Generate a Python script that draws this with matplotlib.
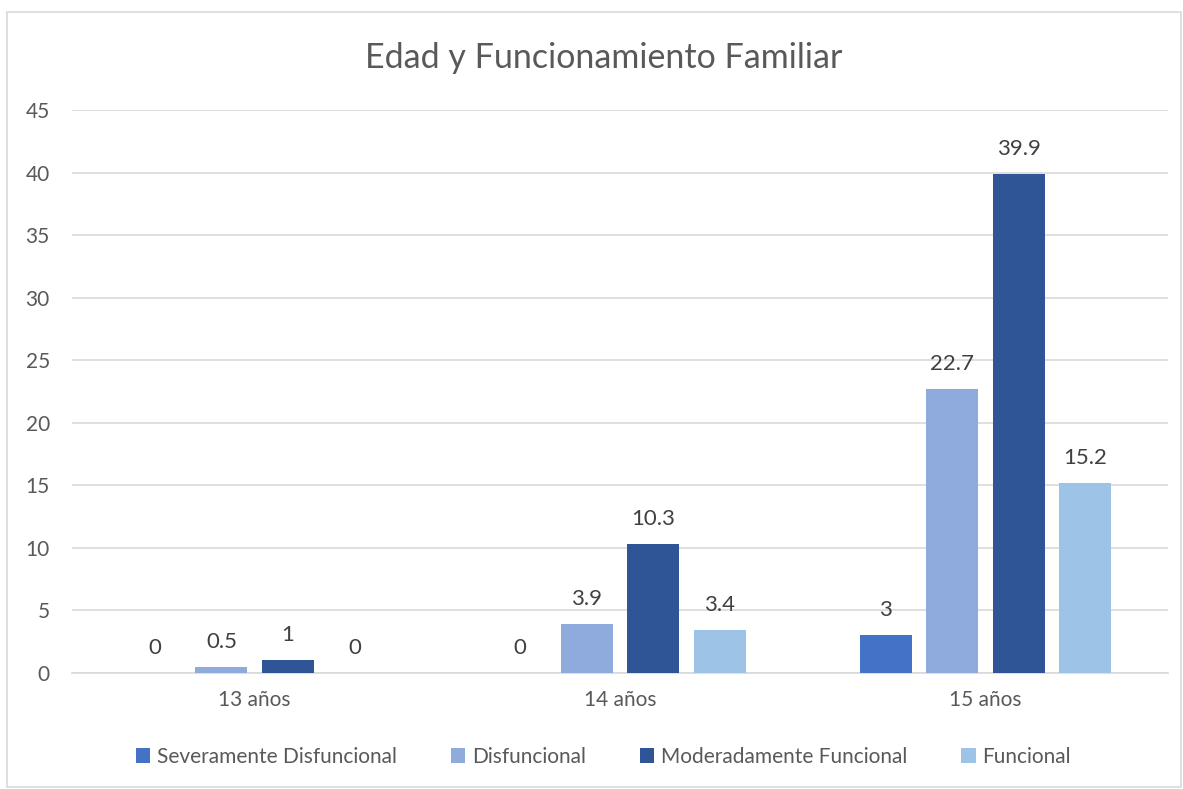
import numpy as np
import matplotlib.pyplot as plt
from matplotlib.patches import Rectangle

plt.rcParams['font.family'] = ['Lato', 'DejaVu Sans']

# Data
categories = ['13 años', '14 años', '15 años']
series_names = ['Severamente Disfuncional', 'Disfuncional', 'Moderadamente Funcional', 'Funcional']
severamente = [0, 0, 3]
disfuncional = [0.5, 3.9, 22.7]
moderadamente = [1, 10.3, 39.9]
funcional = [0, 3.4, 15.2]
values = [severamente, disfuncional, moderadamente, funcional]
colors = ['#4472C4', '#8FAADC', '#2F5597', '#9DC3E6']

fig = plt.figure(figsize=(11.83, 7.89), dpi=100)
ax = fig.add_axes([72 / 1183, 1 - 673 / 789, (1168 - 72) / 1183, (673 - 110) / 789])

# chart border
fig.patches.append(Rectangle((7 / 1183, 2 / 789), 1 - 9 / 1183, 1 - 14 / 789,
                             transform=fig.transFigure, fill=False,
                             edgecolor='#D9D9D9', linewidth=1.2))

x = np.arange(len(categories))
width = 0.142
step = 0.182
for i, (name, vals, c) in enumerate(zip(series_names, values, colors)):
    pos = x + (i - 1.5) * step
    ax.bar(pos, vals, width, color=c, label=name, zorder=3)
    for xp, v in zip(pos, vals):
        ax.text(xp, v + 1.2, f'{v:g}', ha='center', va='bottom', fontsize=16, color='#404040')

ax.set_xlim(-0.5, 2.5)
ax.set_ylim(0, 45)
ax.set_yticks(range(0, 46, 5))
ax.set_xticks(x)
ax.set_xticklabels(categories)
ax.yaxis.grid(True, color='#D9D9D9', linewidth=1.2, zorder=0)
for s in ['top', 'right', 'left']:
    ax.spines[s].set_visible(False)
ax.spines['bottom'].set_color('#D9D9D9')
ax.spines['bottom'].set_linewidth(1.2)
ax.tick_params(axis='both', length=0, labelsize=15, labelcolor='#595959')
ax.tick_params(axis='x', pad=12)
ax.tick_params(axis='y', pad=16)

fig.text(0.51, 1 - 58 / 789, 'Edad y Funcionamiento Familiar', ha='center', va='center',
         fontsize=24.5, color='#595959')

fig.legend(loc='center', bbox_to_anchor=(0.51, 1 - 757 / 789), ncol=4, frameon=False,
           fontsize=15, handlelength=0.7, handleheight=0.7, handletextpad=0.3,
           columnspacing=2.6, labelcolor='#595959')

fig.savefig('out.png', dpi=100)
